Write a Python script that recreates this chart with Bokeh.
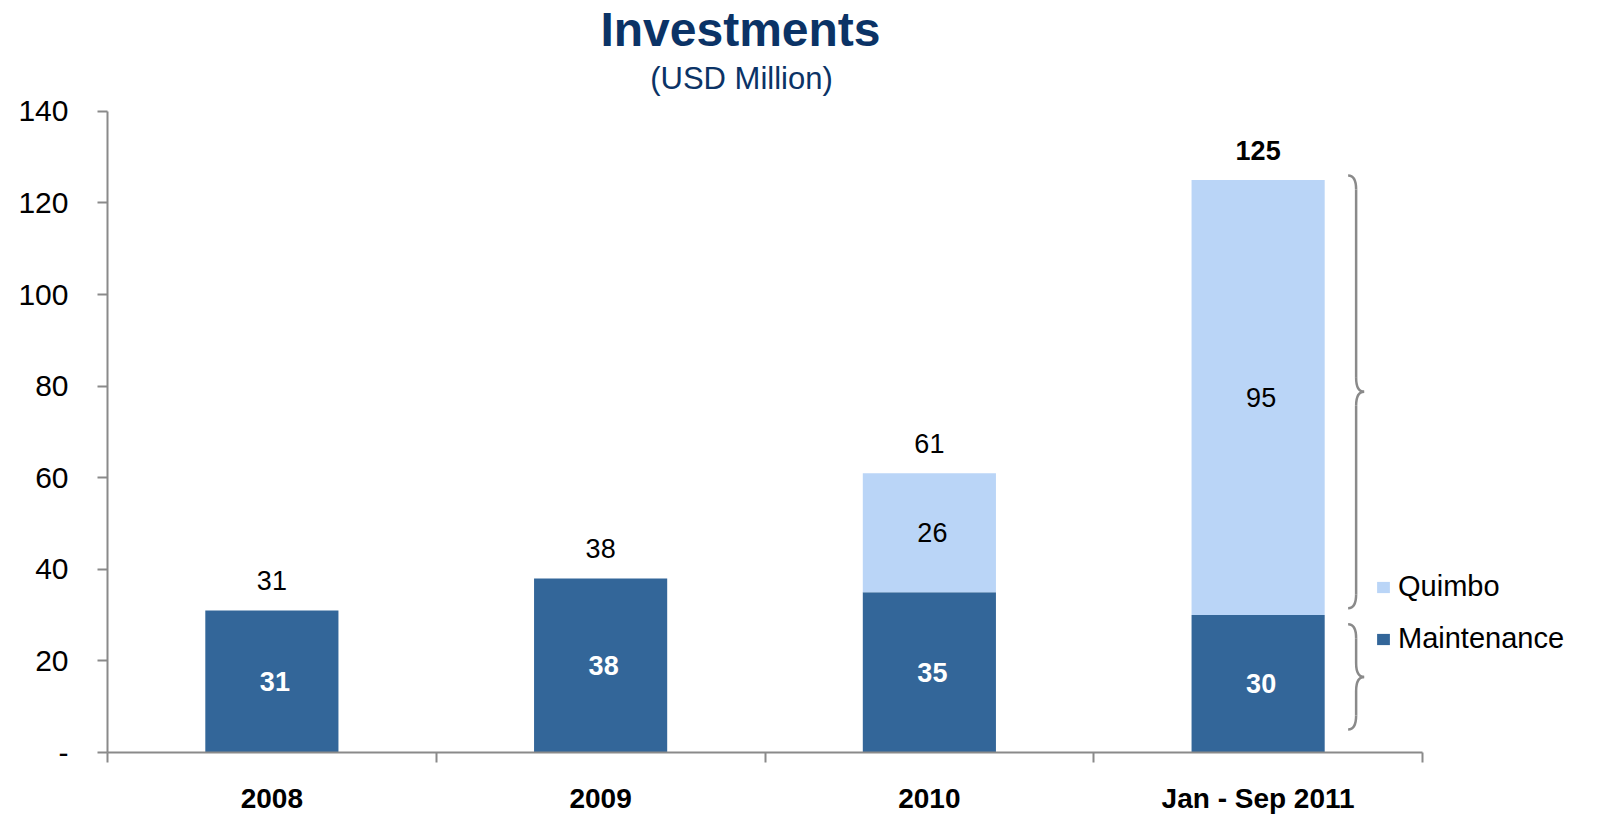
from bokeh.plotting import figure
from bokeh.models import Range1d, FixedTicker, Label, Legend, LegendItem, ColumnDataSource
from bokeh.embed import file_html
from bokeh.resources import INLINE
from bokeh.core.properties import value

# ---------------- data ----------------
categories = ["2008", "2009", "2010", "Jan - Sep 2011"]
maintenance = [31, 38, 35, 30]
quimbo = [0, 0, 26, 95]
totals = [31, 38, 61, 125]
total_styles = ["normal", "normal", "normal", "bold"]
y_ticks = [0, 20, 40, 60, 80, 100, 120, 140]
y_tick_labels = ["-", "20", "40", "60", "80", "100", "120", "140"]

# ---------------- layout / style ----------------
DARK = "#336699"
LIGHT = "#BAD5F7"
NAVY = "#0B3366"
GREY = "#8A8A8A"
FONT = "Liberation Sans"

W, H = 1596, 816
BORDER_L = 107
FRAME_H = 753
BORDER_B = H - FRAME_H
FRAME_W = W - BORDER_L
CAT_PX = 1315 / 4.0          # pixels per category
PPU = 642 / 140.0            # pixels per value unit
ORIGIN_X = BORDER_L          # page x of the axis origin
ORIGIN_Y = FRAME_H           # page y of value 0

def x_at(px):
    return (px - ORIGIN_X) / CAT_PX

def y_at(py):
    return (ORIGIN_Y - py) / PPU

x_end = FRAME_W / CAT_PX
y_end = FRAME_H / PPU

p = figure(width=W, height=H, output_backend="svg", toolbar_location=None,
           x_range=Range1d(0, x_end), y_range=Range1d(0, y_end),
           min_border_left=BORDER_L, min_border_bottom=BORDER_B,
           min_border_top=0, min_border_right=0)
p.outline_line_color = None
p.xgrid.visible = False
p.ygrid.visible = False
p.background_fill_color = "white"
p.border_fill_color = "white"

xs = [i + 0.5 for i in range(len(categories))]
src = ColumnDataSource(dict(x=xs, maintenance=maintenance, quimbo=quimbo))
rs = p.vbar_stack(["maintenance", "quimbo"], x="x", width=0.405, color=[DARK, LIGHT],
                  line_color=None, source=src)

# ---------------- axes ----------------
xa = p.xaxis[0]
xa.ticker = FixedTicker(ticks=xs, minor_ticks=list(range(len(categories) + 1)))
xa.major_label_overrides = {x: c for x, c in zip(xs, categories)}
xa.bounds = (0, len(categories))
xa.axis_line_color = GREY
xa.axis_line_width = 2
xa.major_tick_out = 0
xa.major_tick_in = 0
xa.minor_tick_out = 10
xa.minor_tick_in = 0
xa.minor_tick_line_color = GREY
xa.minor_tick_line_width = 2
xa.major_label_standoff = 20
xa.major_label_text_font = FONT
xa.major_label_text_font_style = "bold"
xa.major_label_text_font_size = "28px"
xa.major_label_text_color = "black"

ya = p.yaxis[0]
ya.ticker = FixedTicker(ticks=y_ticks, minor_ticks=[])
ya.major_label_overrides = {t: l for t, l in zip(y_ticks, y_tick_labels)}
ya.bounds = (0, 140)
ya.axis_line_color = GREY
ya.axis_line_width = 2
ya.major_tick_out = 10
ya.major_tick_in = 0
ya.major_tick_line_color = GREY
ya.major_tick_line_width = 2
ya.minor_tick_out = 0
ya.minor_tick_in = 0
ya.major_label_standoff = 29
ya.major_label_text_font = FONT
ya.major_label_text_font_size = "30px"
ya.major_label_text_color = "black"

# ---------------- value labels ----------------
in_dark = ColumnDataSource(dict(x=xs, y=[m / 2 for m in maintenance],
                                t=[str(m) for m in maintenance]))
p.text("x", "y", text="t", source=in_dark, text_align="center", text_baseline="middle",
       text_font=value(FONT), text_font_style="bold", text_font_size="27px",
       text_color="white", x_offset=3)

qx = [x for x, q in zip(xs, quimbo) if q > 0]
qy = [m + q / 2 for m, q in zip(maintenance, quimbo) if q > 0]
qt = [str(q) for q in quimbo if q > 0]
in_light = ColumnDataSource(dict(x=qx, y=qy, t=qt))
p.text("x", "y", text="t", source=in_light, text_align="center", text_baseline="middle",
       text_font=value(FONT), text_font_size="27px", text_color="black", x_offset=3)

LABEL_GAP = 30 / PPU
tot = ColumnDataSource(dict(x=xs, y=[t + LABEL_GAP for t in totals],
                            t=[str(t) for t in totals], s=total_styles))
p.text("x", "y", text="t", source=tot, text_align="center", text_baseline="middle",
       text_font=value(FONT), text_font_style="s", text_font_size="27px",
       text_color="black")

# ---------------- braces on last bar ----------------
last = len(categories) - 1
bx0 = xs[last] + 90 / CAT_PX
bx1 = xs[last] + 98 / CAT_PX
bx2 = xs[last] + 106 / CAT_PX
r = 14 / PPU
m_last, q_last = maintenance[last], quimbo[last]
brace_spans = [(5, m_last - 2), (m_last + 1.5, m_last + q_last + 1)]
qx0, qy0, qx1, qy1, qcx, qcy = [], [], [], [], [], []
sx0, sy0, sx1, sy1 = [], [], [], []
for lo, hi in brace_spans:
    mid = (lo + hi) / 2
    qx0.append(bx0); qy0.append(hi); qx1.append(bx1); qy1.append(hi - r); qcx.append(bx1); qcy.append(hi)
    qx0.append(bx1); qy0.append(mid + r); qx1.append(bx2); qy1.append(mid); qcx.append(bx1); qcy.append(mid)
    qx0.append(bx2); qy0.append(mid); qx1.append(bx1); qy1.append(mid - r); qcx.append(bx1); qcy.append(mid)
    qx0.append(bx1); qy0.append(lo + r); qx1.append(bx0); qy1.append(lo); qcx.append(bx1); qcy.append(lo)
    sx0 += [bx1, bx1]; sy0 += [hi - r, mid - r]; sx1 += [bx1, bx1]; sy1 += [mid + r, lo + r]
p.quadratic(x0=qx0, y0=qy0, x1=qx1, y1=qy1, cx=qcx, cy=qcy, line_color=GREY, line_width=2.5)
p.segment(x0=sx0, y0=sy0, x1=sx1, y1=sy1, line_color=GREY, line_width=2.5)

# ---------------- legend ----------------
legend = Legend(items=[LegendItem(label="Quimbo", renderers=[rs[1]]),
                       LegendItem(label="Maintenance", renderers=[rs[0]])],
                location=(1268, 97), orientation="vertical")
legend.label_text_font = FONT
legend.label_text_font_size = "29px"
legend.label_text_color = "black"
legend.glyph_width = 16
legend.glyph_height = 14
legend.label_standoff = 7
legend.label_height = 28
legend.spacing = 19
legend.padding = 0
legend.margin = 0
legend.border_line_alpha = 0
legend.background_fill_alpha = 0
p.add_layout(legend)

# ---------------- titles ----------------
p.add_layout(Label(x=x_at(740), y=y_at(29), text="Investments", text_align="center",
                   text_baseline="middle", text_font=FONT, text_font_style="bold",
                   text_font_size="48px", text_color=NAVY))
p.add_layout(Label(x=x_at(741), y=y_at(78), text="(USD Million)", text_align="center",
                   text_baseline="middle", text_font=FONT, text_font_size="31px",
                   text_color=NAVY))

open("out.html", "w").write(file_html(p, INLINE))
